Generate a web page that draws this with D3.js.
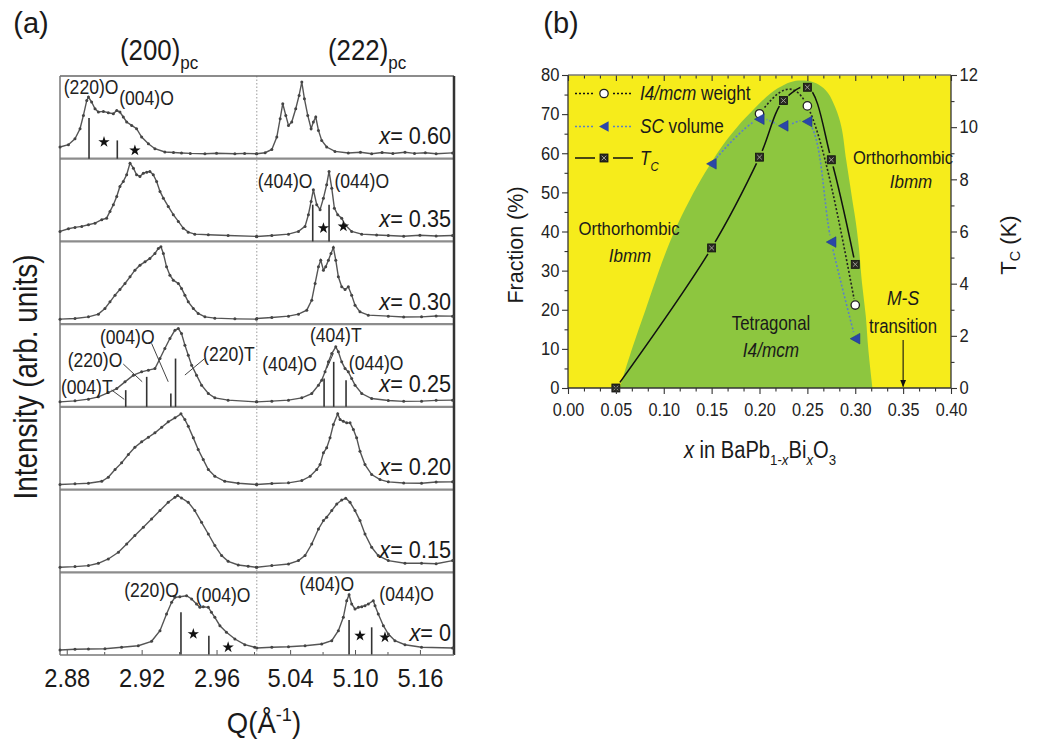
<!DOCTYPE html>
<html><head><meta charset="utf-8">
<script src="https://cdn.jsdelivr.net/npm/d3@7"></script>
<style>
  body { margin: 0; background: #fff; }
  svg { display: block; }
</style>
</head><body>
<svg id="fig" width="1043" height="749"></svg>
<script>
// ================= Panel (a): (200)pc and (222)pc diffraction profiles =================
const compositions = ["0.60", "0.35", "0.30", "0.25", "0.20", "0.15", "0"];

// x = 0.60
const q200_x060 = [2.8764,2.8809,2.8844,2.8871,2.8889,2.8907,2.8916,2.8933,2.8951,2.8969,2.8996,2.9022,2.9049,2.9067,2.9084,2.9102,2.912,2.9147,2.9173,2.92,2.9236,2.9271,2.9324,2.937,2.9413,2.946,2.9538,2.96,2.9698,2.975,2.9813];
const i200_x060 = [6.7,9,15,25,38.3,53.3,56.7,51.7,45,41.7,42.3,41,40,43.3,41.7,36.7,31.7,28.3,25,16.7,10,5,1.7,1.2,0.7,0.3,0,0.4,0,0.3,0];
const q222_x060 = [5.0092,5.0169,5.0231,5.0277,5.0308,5.0332,5.036,5.0385,5.0415,5.0452,5.0483,5.0508,5.0532,5.0563,5.0594,5.0615,5.0637,5.0662,5.0692,5.0738,5.0815,5.0938,5.105,5.1154,5.125,5.135,5.1462,5.155,5.165,5.175,5.1902];
const i222_x060 = [0,1,4.3,16.7,35,50,38.3,28.3,31.7,45,58.3,71.7,55,38.3,25,31.7,36.7,23.3,13.3,6.7,2.3,0.7,1.5,0,1.2,0.2,1.4,0.3,1.0,0,0.8];
// x = 0.35
const q200_x035 = [2.8764,2.8809,2.8844,2.888,2.8916,2.8951,2.8987,2.9013,2.9031,2.9049,2.9067,2.9084,2.9102,2.912,2.9138,2.9156,2.9173,2.9191,2.9209,2.9227,2.9244,2.9262,2.928,2.9298,2.9316,2.9342,2.9369,2.9396,2.9422,2.9449,2.9484,2.9556,2.9662,2.9813];
const i200_x035 = [5,7.7,9,10,11.7,13.3,16.7,18.3,25,31.7,40,50,55,61.7,73.3,68.3,61.7,60,63.3,64.3,65,61.7,55,45,38.3,30,21.7,15,8.3,4.3,2.3,1.7,1,0];
const q222_x035 = [5.0092,5.0231,5.0385,5.0477,5.0538,5.0569,5.0594,5.0615,5.0646,5.0677,5.0708,5.0738,5.076,5.0785,5.0809,5.084,5.0877,5.0908,5.0969,5.1062,5.12,5.1308,5.145,5.16,5.175,5.1902];
const i222_x035 = [0,1,2.3,5,10,21.7,35,46.7,31.7,26.7,38.3,51.7,65,48.3,28.3,21.7,18.3,11.7,5,2.3,1.5,1,0.2,1.2,0.4,1];
// x = 0.30
const q200_x030 = [2.8764,2.8844,2.8916,2.8969,2.9004,2.9031,2.9058,2.9084,2.9111,2.9138,2.9164,2.9191,2.9218,2.9244,2.9271,2.9289,2.9303,2.9316,2.9333,2.9351,2.9369,2.9396,2.9413,2.9431,2.9449,2.9476,2.9502,2.9538,2.9591,2.9698,2.9813];
const i200_x030 = [0,0.7,2.3,5,10.7,17.3,24,29.7,35.7,42.3,49,54,57.3,60.7,65.7,70.7,72.3,65.7,52.3,44,39,35.7,30.7,24,17.3,10.7,5.7,2.3,1,0.3,0];
const q222_x030 = [5.0092,5.0231,5.0385,5.0477,5.0554,5.06,5.0631,5.0662,5.0683,5.0708,5.0729,5.0754,5.0778,5.08,5.0822,5.0846,5.0877,5.0908,5.0938,5.0969,5.1,5.1046,5.1123,5.1308,5.145,5.1615,5.175,5.1902];
const i222_x030 = [0.7,1.7,3,5,9,19,35.7,52.3,59,49,52.3,59,65.7,71.7,59,42.3,32.3,29.7,32.3,24,14,7.3,4,3,2.2,2.3,3.2,3];
// x = 0.25
const q200_x025 = [2.8764,2.8844,2.8916,2.8969,2.9022,2.9067,2.9111,2.9156,2.92,2.9236,2.9271,2.9298,2.9324,2.9351,2.9378,2.9396,2.9413,2.9431,2.9449,2.9467,2.9493,2.952,2.9556,2.9591,2.9662,2.9813];
const i200_x025 = [0,1,2.7,5,9.3,13.3,20,26.7,30,31.7,33.3,43.3,53.3,63.3,71.7,73.3,68.3,56.7,46.7,36.7,26.7,16.7,8.3,4,1.7,0];
const q222_x025 = [5.0092,5.0231,5.0385,5.0508,5.06,5.0662,5.0692,5.0723,5.0754,5.0785,5.0822,5.0846,5.0877,5.0908,5.0938,5.0969,5.1,5.1062,5.1154,5.1308,5.145,5.1615,5.175,5.1902];
const i222_x025 = [0,0.7,1.7,4,8.3,16.7,21.7,30,40,48.3,55,50,40,33.3,30,23.3,16.7,8.3,3.3,1.3,0.5,0.7,1.5,1.7];
// x = 0.20
const q200_x020 = [2.8764,2.8844,2.8916,2.8987,2.9022,2.9058,2.9093,2.9129,2.9164,2.92,2.9236,2.9271,2.9307,2.9342,2.9378,2.941,2.9431,2.9449,2.9476,2.9502,2.9529,2.9556,2.9591,2.9644,2.9716,2.9813];
const i200_x020 = [0,0.7,1.3,3.3,7.3,15,21.7,30,37.3,42.7,47.3,51.7,57.3,62.7,66.7,70.7,65,58.3,46.7,35,25,15,8.3,3.3,1.3,0];
const q222_x020 = [5.0092,5.0231,5.0385,5.0508,5.0585,5.0646,5.0677,5.0708,5.0738,5.0769,5.08,5.084,5.0862,5.0892,5.0923,5.0954,5.0985,5.1015,5.1046,5.1092,5.1154,5.1231,5.1308,5.145,5.1615,5.175,5.1902];
const i222_x020 = [0,1,1.7,4,8.3,15,20,31.7,36.7,46.7,60,70.7,65,63.3,61.7,61.7,55,46.7,33.3,20,10,5,2.7,1.5,1.3,2.5,2.7];
// x = 0.15
const q200_x015 = [2.8764,2.8844,2.8916,2.8969,2.9022,2.9076,2.912,2.9164,2.9209,2.9253,2.9298,2.9342,2.9378,2.9392,2.9413,2.9449,2.9484,2.952,2.9556,2.9591,2.9627,2.9662,2.9716,2.9769,2.9813];
const i200_x015 = [0,0.7,1.7,4,8.3,15,23.3,31.7,40,48.3,56.7,65,70,71.7,69.3,65,56.7,45,33.3,21.7,11.7,6,2.3,1,0];
const q222_x015 = [5.0092,5.0231,5.0385,5.0477,5.0538,5.06,5.0662,5.0708,5.0738,5.0785,5.0831,5.0877,5.0914,5.0954,5.1,5.1046,5.1092,5.1154,5.1215,5.1308,5.1462,5.1615,5.175,5.1902];
const i222_x015 = [0,1.7,3.3,6.7,11.7,23.3,38.3,46.7,50,56.7,63.3,67.3,69,65,56.7,46.7,33.3,20,11.7,6.7,4,4,3.5,6.7];
// x = 0
const q200_x000 = [2.8764,2.8844,2.8916,2.9004,2.9093,2.9182,2.9253,2.9298,2.9333,2.936,2.9378,2.9404,2.944,2.9467,2.9493,2.9511,2.9529,2.9556,2.9573,2.9591,2.9618,2.9653,2.9698,2.9751,2.9804];
const i200_x000 = [0,0.7,1,1.3,2.7,4.3,8.7,19.3,36,47.7,52.7,53.3,54.3,51,46,42.7,43.3,42.7,37.7,32.7,24.3,17.7,11,5.3,2.7];
const q222_x000 = [5.0092,5.0231,5.0385,5.0538,5.0692,5.0785,5.0846,5.0892,5.0923,5.0945,5.0969,5.1,5.1031,5.1062,5.1092,5.1123,5.1169,5.1185,5.1215,5.1262,5.1308,5.1369,5.1462,5.1615,5.1902];
const i222_x000 = [2,2.7,3.3,4.3,6,9.3,19.3,32.7,49.3,55.3,46,41,42.7,43.3,44.3,46,49.3,44.3,36,24.3,16,9.3,5.3,2.7,2];

// Reflection sticks (position, height) and impurity stars
const stickQ_x060 = [2.8919, 2.907];          const stickH_x060 = [35.7, 13.3];
const stickQ_x035 = [5.0609, 5.076];          const stickH_x035 = [31.7, 31.7];
const stickQ_x025 = [2.9115, 2.9227, 2.9356, 2.9381, 5.0714, 5.0803, 5.0917];
const stickH_x025 = [11.7, 25, 8.3, 43.3, 23.3, 40, 21.7];
const stickQ_x000 = [2.941, 2.9559, 5.0945, 5.1154]; const stickH_x000 = [37.7, 14.3, 30, 22.7];
const starQ_x060 = [2.8999, 2.9164];          const starI_x060 = [11.7, 3.3];
const starQ_x035 = [5.0708, 5.0892];          const starI_x035 = [8.3, 10];
const starQ_x000 = [2.9476, 2.9662, 5.1046, 5.1277]; const starI_x000 = [16, 2.7, 14.3, 12.7];

const qTicks200 = [2.88, 2.92, 2.96], qMinor200 = [2.90, 2.94, 2.98];
const qTicks222 = [5.04, 5.10, 5.16], qMinor222 = [5.07, 5.13];

// ================= Panel (b): phase diagram =================
const xTc = [0.05, 0.15, 0.20, 0.225, 0.25, 0.275, 0.30];
const tcK = [0, 5.37, 8.85, 11.02, 11.53, 8.75, 4.74];
const xWeight = [0.20, 0.25, 0.30];
const weightPct = [70.1, 72.1, 21.2];
const xSC = [0.15, 0.20, 0.225, 0.25, 0.275, 0.30];
const scPct = [57.3, 68.7, 67.0, 68.1, 37.3, 12.6];
// tetragonal I4/mcm region boundary
const domeX = [0.054,0.0668,0.081,0.095,0.111,0.127,0.143,0.16,0.177,0.195,0.212,0.226,0.238,0.25,0.262,0.2715,0.2795,0.2855,0.2906,0.2945,0.2976,0.3008,0.304,0.307,0.311,0.3136,0.318];
const domeF = [0,10,20,30,40,48,55,61.5,66.8,71.5,75.4,77.5,78.5,78.5,77.5,75.4,71.5,66.8,58.2,52,47,42,35.4,26.9,18.4,10,0];
const msX = 0.35;
const xTicksB = [0, 0.05, 0.10, 0.15, 0.20, 0.25, 0.30, 0.35, 0.40];
const fracTicks = [0, 10, 20, 30, 40, 50, 60, 70, 80];
const tcTicks = [0, 2, 4, 6, 8, 10, 12];

// ---------------------------------------------------------------
const FONT = '"Liberation Sans", Arial, Helvetica, sans-serif';
const svg = d3.select("#fig");
svg.append("rect").attr("width", 1043).attr("height", 749).attr("fill", "#fff");

// text with italic / sub / sup runs, placed by transform so it can be squeezed
function richText(parent, x, y, parts, o) {
  const size = o.size;
  const t = parent.append("text")
    .attr("transform", `translate(${x},${y}) rotate(${o.rotate || 0}) scale(${o.sx || 1},${o.sy || 1})`)
    .attr("font-family", FONT).attr("font-size", size)
    .attr("text-anchor", o.anchor || "start")
    .attr("fill", o.fill || "#1a1a1a");
  if (o.middle) t.attr("dominant-baseline", "central");
  let shift = 0;
  parts.forEach(p => {
    const [s, st] = typeof p === "string" ? [p, ""] : p;
    const flags = st.split(" ");
    const ts = t.append("tspan").text(s);
    let target = 0, fs = size;
    if (flags.includes("sub")) { target = size * 0.32; fs = size * 0.66; }
    if (flags.includes("sup")) { target = -size * 0.42; fs = size * 0.66; }
    if (flags.includes("i")) ts.attr("font-style", "italic");
    if (fs !== size) ts.attr("font-size", fs);
    if (target !== shift) { ts.attr("dy", target - shift); shift = target; }
  });
  return t;
}
function squeeze(sel, k) {
  sel.each(function () {
    const w = this.getComputedTextLength();
    d3.select(this).attr("textLength", w * k).attr("lengthAdjust", "spacingAndGlyphs");
  });
}

// ---------------- panel (a) ----------------
const A = { left: 60, mid: 256.8, right: 454, top: 76, bottom: 655 };
const qL = d3.scaleLinear().domain([2.8764, 2.9815]).range([A.left, A.mid]);
const qR = d3.scaleLinear().domain([5.0092, 5.1915]).range([A.mid, A.right]);
const rowY = d3.scaleLinear().domain([0, 7]).range([A.top, A.bottom]);
const rowScale = i => d3.scaleLinear().domain([0, 80]).range([rowY(i + 1) - 5, rowY(i + 1) - 85]);

const profiles = [
  { qL: q200_x060, iL: i200_x060, qR: q222_x060, iR: i222_x060, sq: stickQ_x060, sh: stickH_x060, tq: starQ_x060, ti: starI_x060 },
  { qL: q200_x035, iL: i200_x035, qR: q222_x035, iR: i222_x035, sq: stickQ_x035, sh: stickH_x035, tq: starQ_x035, ti: starI_x035 },
  { qL: q200_x030, iL: i200_x030, qR: q222_x030, iR: i222_x030, sq: [], sh: [], tq: [], ti: [] },
  { qL: q200_x025, iL: i200_x025, qR: q222_x025, iR: i222_x025, sq: stickQ_x025, sh: stickH_x025, tq: [], ti: [] },
  { qL: q200_x020, iL: i200_x020, qR: q222_x020, iR: i222_x020, sq: [], sh: [], tq: [], ti: [] },
  { qL: q200_x015, iL: i200_x015, qR: q222_x015, iR: i222_x015, sq: [], sh: [], tq: [], ti: [] },
  { qL: q200_x000, iL: i200_x000, qR: q222_x000, iR: i222_x000, sq: stickQ_x000, sh: stickH_x000, tq: starQ_x000, ti: starI_x000 }
];
const qx = q => (q < 4 ? qL(q) : qR(q));

// Miller index labels: [row, Q, level, text]
const peakLabels = [
  [0, 2.893, 66.7, "(220)O"], [0, 2.9226, 55.7, "(004)O"],
  [1, 5.0354, 55.7, "(404)O"], [1, 5.1062, 55.7, "(044)O"],
  [3, 2.8907, 15.1, "(004)T"], [3, 2.8951, 41.8, "(220)O"], [3, 2.9123, 65.1, "(004)O"], [3, 2.9666, 48.5, "(220)T"],
  [3, 5.0822, 66.8, "(404)T"], [3, 5.0395, 38.5, "(404)O"], [3, 5.1195, 39.5, "(044)O"],
  [6, 2.9253, 60, "(220)O"], [6, 2.9635, 55, "(004)O"], [6, 5.0739, 66, "(404)O"], [6, 5.1477, 56.7, "(044)O"]
];
// leader lines in the x = 0.25 row: [Q1, level1, Q2, level2]
const leaders = [
  [2.904, 11.8, 2.9107, 2.5], [2.9102, 37.8, 2.9203, 20.1], [2.9253, 58.5, 2.9342, 20.1],
  [2.9538, 43.5, 2.9431, 26.8], [5.0739, 33.5, 5.080, 48.5]
];

const gA = svg.append("g");

// row separators and frame
gA.append("line").attr("x1", A.mid).attr("x2", A.mid).attr("y1", A.top).attr("y2", A.bottom)
  .attr("stroke", "#9a9a9a").attr("stroke-width", 1).attr("stroke-dasharray", "1.5,2");
d3.range(1, 7).forEach(i => {
  gA.append("line").attr("x1", A.left).attr("x2", A.right).attr("y1", rowY(i)).attr("y2", rowY(i))
    .attr("stroke", "#8c8c8c").attr("stroke-width", 2.2);
});
gA.append("line").attr("x1", A.left).attr("x2", A.right).attr("y1", A.top).attr("y2", A.top).attr("stroke", "#666").attr("stroke-width", 1.5);
gA.append("line").attr("x1", A.left).attr("x2", A.left).attr("y1", A.top).attr("y2", A.bottom).attr("stroke", "#777").attr("stroke-width", 1.5);
gA.append("line").attr("x1", A.right).attr("x2", A.right).attr("y1", A.top).attr("y2", A.bottom).attr("stroke", "#333").attr("stroke-width", 2.5);

profiles.forEach((p, i) => {
  const y = rowScale(i);
  const g = gA.append("g");
  [[p.qL, p.iL, qL], [p.qR, p.iR, qR]].forEach(([qs, is, sx]) => {
    const pts = qs.map((q, k) => [sx(q), y(is[k])]);
    g.append("path").attr("d", d3.line().curve(d3.curveLinear)(pts))
      .attr("fill", "none").attr("stroke", "#555").attr("stroke-width", 1.4);
    g.selectAll(null).data(pts).join("circle")
      .attr("cx", d => d[0]).attr("cy", d => d[1]).attr("r", 1.5).attr("fill", "#444");
  });
  p.sq.forEach((q, k) => {
    g.append("line").attr("x1", qx(q)).attr("x2", qx(q)).attr("y1", rowY(i + 1)).attr("y2", y(p.sh[k]))
      .attr("stroke", "#333").attr("stroke-width", 1.6);
  });
  p.tq.forEach((q, k) => {
    g.append("path").attr("d", d3.symbol(d3.symbolStar, 40)())
      .attr("transform", `translate(${qx(q)},${y(p.ti[k])})`).attr("fill", "#111");
  });
  richText(gA, 451, rowY(i + 1) - 14.5, [["x", "i"], "= " + compositions[i]], { size: 23.3, anchor: "end", sx: 0.93 });
});

peakLabels.forEach(([r, q, lv, s]) => {
  richText(gA, qx(q), rowScale(r)(lv), [s], { size: 19.5, anchor: "middle", middle: true, sx: 0.9, fill: "#222" });
});
leaders.forEach(([q1, l1, q2, l2]) => {
  const y = rowScale(3);
  gA.append("line").attr("x1", qx(q1)).attr("y1", y(l1)).attr("x2", qx(q2)).attr("y2", y(l2))
    .attr("stroke", "#444").attr("stroke-width", 1);
});

// Q axis (two segments)
function qAxis(scale, major, minor) {
  const gm = gA.append("g").attr("transform", `translate(0,${A.bottom})`)
    .call(d3.axisBottom(scale).tickValues(major).tickSize(-5).tickPadding(14).tickFormat(d3.format(".2f")));
  gm.select(".domain").remove();
  gm.selectAll("line").attr("stroke", "#555");
  gm.selectAll("text").attr("font-family", FONT).attr("font-size", 26).attr("fill", "#1a1a1a");
  squeeze(gm.selectAll("text"), 0.91);
  const gn = gA.append("g").attr("transform", `translate(0,${A.bottom})`)
    .call(d3.axisBottom(scale).tickValues(minor).tickSize(-3).tickFormat(""));
  gn.select(".domain").remove();
  gn.selectAll("line").attr("stroke", "#555");
}
qAxis(qL, qTicks200, qMinor200);
qAxis(qR, qTicks222, qMinor222);
gA.append("line").attr("x1", A.left).attr("x2", A.right).attr("y1", A.bottom).attr("y2", A.bottom).attr("stroke", "#777").attr("stroke-width", 1.5);

richText(gA, 120, 60, ["(200)", ["pc", "sub"]], { size: 29, sx: 0.89 });
richText(gA, 328, 60, ["(222)", ["pc", "sub"]], { size: 29, sx: 0.89 });
richText(gA, 31, 33, ["(a)"], { size: 29, anchor: "middle" });
richText(gA, 264, 733, ["Q(Å", ["-1", "sup"], ")"], { size: 29, anchor: "middle", sx: 0.95 });
richText(gA, 25, 377, ["Intensity (arb. units)"], { size: 30, anchor: "middle", middle: true, rotate: -90, sx: 0.93, sy: 1.08 });

// ---------------- panel (b) ----------------
const B = { left: 568, right: 951, top: 75, bottom: 388 };
const xB = d3.scaleLinear().domain([0, 0.40]).range([B.left, B.right]);
const yF = d3.scaleLinear().domain([0, 80]).range([B.bottom, B.top]);
const yT = d3.scaleLinear().domain([0, 12]).range([B.bottom, B.top]);
const gB = svg.append("g");
const defs = svg.append("defs");
defs.append("clipPath").attr("id", "plotB").append("rect")
  .attr("x", B.left).attr("y", B.top).attr("width", B.right - B.left).attr("height", B.bottom - B.top);
defs.append("marker").attr("id", "arrowB").attr("viewBox", "0 0 10 10").attr("refX", 9).attr("refY", 5)
  .attr("markerWidth", 7).attr("markerHeight", 7).attr("orient", "auto")
  .append("path").attr("d", "M0,1 L10,5 L0,9 Z").attr("fill", "#111");

const plot = gB.append("g").attr("clip-path", "url(#plotB)");
plot.append("rect").attr("x", B.left).attr("y", B.top).attr("width", B.right - B.left).attr("height", B.bottom - B.top)
  .attr("fill", "#f6ec1b");
const domePts = domeX.map((x, k) => [xB(x), yF(domeF[k])]);
plot.append("path").attr("d", d3.line().curve(d3.curveCatmullRom.alpha(0.5))(domePts) + "Z")
  .attr("fill", "#8dc63f");

// masks that open small gaps in each guide line around its own markers
function gapMask(id, pts, r) {
  const m = defs.append("mask").attr("id", id).attr("maskUnits", "userSpaceOnUse")
    .attr("x", 0).attr("y", 0).attr("width", 1043).attr("height", 749);
  m.append("rect").attr("width", 1043).attr("height", 749).attr("fill", "#fff");
  pts.forEach(p => m.append("circle").attr("cx", p[0]).attr("cy", p[1]).attr("r", r).attr("fill", "#000"));
}
const tcPts = xTc.map((x, k) => [xB(x), yT(tcK[k])]);
const wPts = xWeight.map((x, k) => [xB(x), yF(weightPct[k])]);
const scPts = xSC.map((x, k) => [xB(x), yF(scPct[k])]);
gapMask("gapTc", tcPts, 7);
gapMask("gapW", wPts, 6.5);
gapMask("gapSC", scPts, 7);

plot.append("path").attr("d", d3.line().curve(d3.curveNatural)(wPts)).attr("mask", "url(#gapW)")
  .attr("fill", "none").attr("stroke", "#222").attr("stroke-width", 1.6).attr("stroke-dasharray", "2,2");
plot.append("path").attr("d", d3.line().curve(d3.curveCatmullRom.alpha(0.5))(scPts)).attr("mask", "url(#gapSC)")
  .attr("fill", "none").attr("stroke", "#5b80c8").attr("stroke-width", 1.6).attr("stroke-dasharray", "2,2");
plot.append("path").attr("d", d3.line().curve(d3.curveCatmullRom.alpha(0.5))(tcPts)).attr("mask", "url(#gapTc)")
  .attr("fill", "none").attr("stroke", "#111").attr("stroke-width", 1.5);

const triPath = "M4.6,-5.3 L-5,0 L4.6,5.3 Z";
function squareMarker(g, x, y) {
  const s = 4;
  g.append("rect").attr("x", x - s).attr("y", y - s).attr("width", 2 * s).attr("height", 2 * s)
    .attr("fill", "#2a2a22").attr("stroke", "#111").attr("stroke-width", 0.8);
  g.append("path").attr("d", `M${x - 2.3},${y - 2.3}L${x + 2.3},${y + 2.3}M${x + 2.3},${y - 2.3}L${x - 2.3},${y + 2.3}`)
    .attr("stroke", "#a8a8a0").attr("stroke-width", 0.9);
}
tcPts.forEach(p => squareMarker(gB, p[0], p[1]));
wPts.forEach(p => gB.append("circle").attr("cx", p[0]).attr("cy", p[1]).attr("r", 4.2)
  .attr("fill", "#fff").attr("stroke", "#222").attr("stroke-width", 1.3));
scPts.forEach(p => gB.append("path").attr("d", triPath).attr("transform", `translate(${p[0]},${p[1]})`)
  .attr("fill", "#2b46a8").attr("stroke", "#1d3590").attr("stroke-width", 0.6));

// M-S transition arrow
gB.append("line").attr("x1", xB(msX)).attr("x2", xB(msX)).attr("y1", yF(12.3)).attr("y2", yF(0.4))
  .attr("stroke", "#111").attr("stroke-width", 1.1).attr("marker-end", "url(#arrowB)");

// region labels
richText(gB, 629, 235, ["Orthorhombic"], { size: 19, anchor: "middle", sx: 0.88 });
richText(gB, 630, 262, [["Ibmm", "i"]], { size: 18.5, anchor: "middle", sx: 0.92 });
richText(gB, 903, 164, ["Orthorhombic"], { size: 19, anchor: "middle", sx: 0.87 });
richText(gB, 911, 188, [["Ibmm", "i"]], { size: 18.5, anchor: "middle", sx: 0.92 });
richText(gB, 771, 330, ["Tetragonal"], { size: 20.5, anchor: "middle", sx: 0.82 });
richText(gB, 771, 357, [["I4/mcm", "i"]], { size: 20, anchor: "middle", sx: 0.86 });
richText(gB, 903, 305, [["M-S", "i"]], { size: 19.5, anchor: "middle", sx: 0.9 });
richText(gB, 903, 333, ["transition"], { size: 19.5, anchor: "middle", sx: 0.86 });

// legend
const legRows = [
  { y: 93.5, kind: "w", parts: [["I4/mcm", "i"], " weight"] },
  { y: 126.5, kind: "sc", parts: [["SC", "i"], " volume"] },
  { y: 158, kind: "tc", parts: [["T", "i"], ["C", "i sub"]] }
];
legRows.forEach(r => {
  const stroke = r.kind === "sc" ? "#5b80c8" : "#111";
  const dash = r.kind === "tc" ? null : "2,2";
  [[575, 595], [613, 633]].forEach(([a, b]) => {
    gB.append("line").attr("x1", a).attr("x2", b).attr("y1", r.y).attr("y2", r.y)
      .attr("stroke", stroke).attr("stroke-width", r.kind === "tc" ? 1.5 : 1.6).attr("stroke-dasharray", dash);
  });
  if (r.kind === "w") gB.append("circle").attr("cx", 604).attr("cy", r.y).attr("r", 4.2).attr("fill", "#fff").attr("stroke", "#222").attr("stroke-width", 1.3);
  if (r.kind === "sc") gB.append("path").attr("d", triPath).attr("transform", `translate(604,${r.y})`).attr("fill", "#2b46a8");
  if (r.kind === "tc") squareMarker(gB, 604, r.y);
  richText(gB, 640, r.y + 6.5, r.parts, { size: 19.5, sx: 0.88 });
});

// axes
function styleAxis(g, size, k) {
  g.select(".domain").remove();
  g.selectAll("line").attr("stroke", "#333").attr("stroke-width", 1.1);
  g.selectAll("text").attr("font-family", FONT).attr("font-size", size).attr("fill", "#222");
  if (k) squeeze(g.selectAll("text"), k);
}
const minorX = d3.range(0, 25).filter(k => k % 3 !== 0).map(k => k * 0.05 / 3);
const axL = gB.append("g").attr("transform", `translate(${B.left},0)`)
  .call(d3.axisLeft(yF).tickValues(fracTicks).tickSize(6).tickPadding(2.5));
styleAxis(axL, 18, 0.92);
styleAxis(gB.append("g").attr("transform", `translate(${B.left},0)`)
  .call(d3.axisLeft(yF).tickValues(fracTicks.slice(0, -1).map(v => v + 5)).tickSize(3.5).tickFormat("")));
const axR = gB.append("g").attr("transform", `translate(${B.right},0)`)
  .call(d3.axisRight(yT).tickValues(tcTicks).tickSize(6).tickPadding(2.5));
styleAxis(axR, 18, 0.92);
styleAxis(gB.append("g").attr("transform", `translate(${B.right},0)`)
  .call(d3.axisRight(yT).tickValues(tcTicks.slice(0, -1).map(v => v + 1)).tickSize(3.5).tickFormat("")));
const axBt = gB.append("g").attr("transform", `translate(0,${B.bottom})`)
  .call(d3.axisBottom(xB).tickValues(xTicksB).tickSize(6).tickPadding(9.5).tickFormat(d3.format(".2f")));
styleAxis(axBt, 18, 0.9);
styleAxis(gB.append("g").attr("transform", `translate(0,${B.bottom})`)
  .call(d3.axisBottom(xB).tickValues(minorX).tickSize(3.5).tickFormat("")));
const axTp = gB.append("g").attr("transform", `translate(0,${B.top})`)
  .call(d3.axisTop(xB).tickValues(xTicksB).tickSize(-6).tickFormat(""));
styleAxis(axTp, 18);
styleAxis(gB.append("g").attr("transform", `translate(0,${B.top})`)
  .call(d3.axisTop(xB).tickValues(minorX).tickSize(-3.5).tickFormat("")));
gB.append("line").attr("x1", B.left).attr("x2", B.right).attr("y1", B.top).attr("y2", B.top).attr("stroke", "#777").attr("stroke-width", 1.3);
gB.append("line").attr("x1", B.left).attr("x2", B.right).attr("y1", B.bottom).attr("y2", B.bottom).attr("stroke", "#333").attr("stroke-width", 1.3);
gB.append("line").attr("x1", B.left).attr("x2", B.left).attr("y1", B.top).attr("y2", B.bottom).attr("stroke", "#333").attr("stroke-width", 1.3);
gB.append("line").attr("x1", B.right).attr("x2", B.right).attr("y1", B.top).attr("y2", B.bottom).attr("stroke", "#333").attr("stroke-width", 1.3);

richText(gB, 516, 245, ["Fraction (%)"], { size: 21.5, anchor: "middle", middle: true, rotate: -90 });
richText(gB, 1008, 245, ["T", ["C", "sub"], " (K)"], { size: 22, anchor: "middle", middle: true, rotate: -90 });
richText(gB, 760, 458, [["x", "i"], " in BaPb", ["1-", "sub"], ["x", "i sub"], "Bi", ["x", "i sub"], "O", ["3", "sub"]],
  { size: 23, anchor: "middle", sx: 0.875 });
richText(gB, 561, 33, ["(b)"], { size: 29, anchor: "middle" });
</script>
</body></html>
